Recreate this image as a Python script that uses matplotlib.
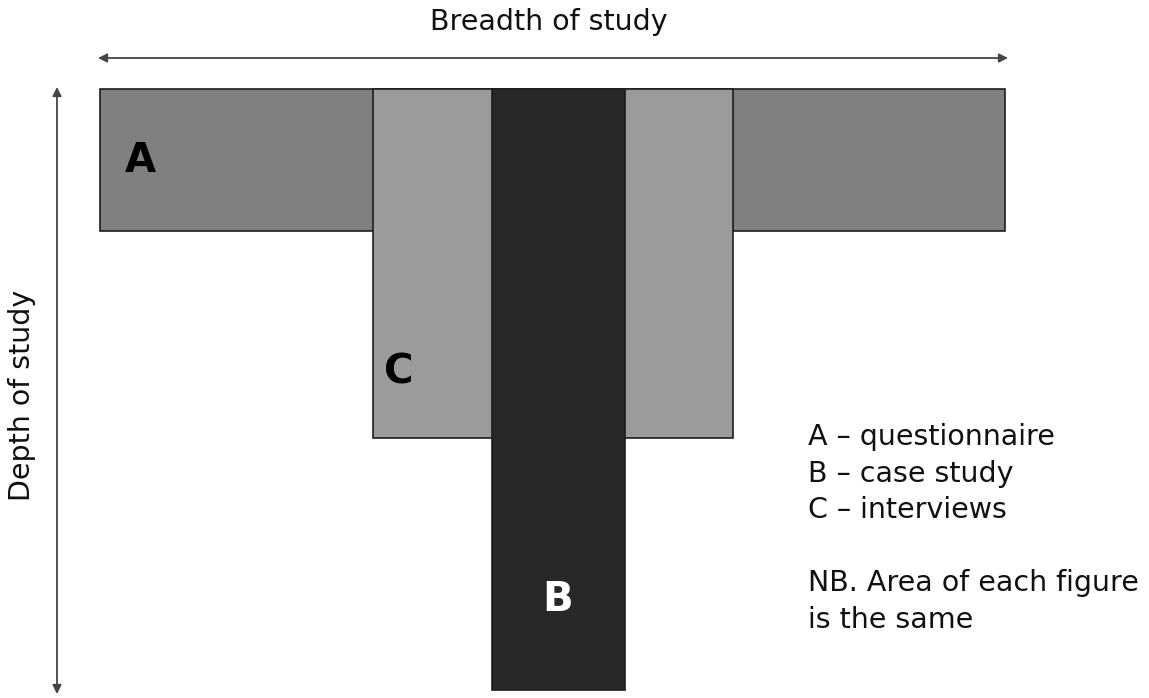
import matplotlib.pyplot as plt
from matplotlib.patches import Rectangle

# method boxes in pixel space of the original diagram: x0, x1, y0(top), y1(bottom)
methods = ['A', 'C', 'B']
box_x0 = [100, 373, 492]
box_x1 = [1005, 733, 625]
box_y0 = [89, 89, 89]
box_y1 = [231, 438, 690]
box_colors = ['#808080', '#9b9b9b', '#282828']
label_pos = [(140, 161), (399, 373), (558, 600)]
label_colors = ['black', 'black', 'white']

legend_lines = ['A \u2013 questionnaire', 'B \u2013 case study', 'C \u2013 interviews',
                '', 'NB. Area of each figure', 'is the same']

fig = plt.figure(figsize=(11.49, 6.98), dpi=100)
ax = fig.add_axes([0, 0, 1, 1])
ax.set_xlim(0, 1149)
ax.set_ylim(698, 0)
ax.axis('off')

for x0, x1, y0, y1, c in zip(box_x0, box_x1, box_y0, box_y1, box_colors):
    ax.add_patch(Rectangle((x0, y0), x1 - x0, y1 - y0, facecolor=c,
                           edgecolor='#1e1e1e', linewidth=1.2))

for m, (lx, ly), lc in zip(methods, label_pos, label_colors):
    ax.text(lx, ly, m, fontsize=29, fontweight='bold', color=lc,
            ha='center', va='center')

# axes arrows
arrow = dict(arrowstyle='<|-|>', color='#444444', lw=1.3, mutation_scale=13,
             shrinkA=0, shrinkB=0)
ax.annotate('', xy=(98, 58), xytext=(1008, 58), arrowprops=arrow)
ax.annotate('', xy=(57, 87), xytext=(57, 694), arrowprops=arrow)

ax.text(549, 22, 'Breadth of study', fontsize=20.5, ha='center', va='center',
        color='#111111')
ax.text(22, 395, 'Depth of study', fontsize=20.5, ha='center', va='center',
        rotation=90, color='#111111')

for i, line in enumerate(legend_lines):
    ax.text(808, 437 + i * 36.5, line, fontsize=20.5, ha='left', va='center',
            color='#111111')

fig.savefig('out.png', dpi=100)
